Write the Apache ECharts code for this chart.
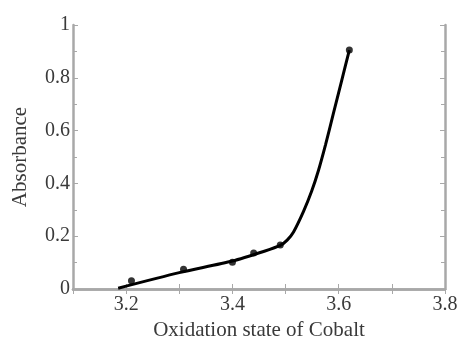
<!DOCTYPE html>
<html><head><meta charset="utf-8">
<script src="https://cdn.jsdelivr.net/npm/echarts@6/dist/echarts.min.js"></script>
<style>html,body{margin:0;padding:0;background:#fff}#c{width:459px;height:338px}</style>
</head><body><div id="c"></div>
<script>
// measured data points
var pointX = [3.21, 3.308, 3.40, 3.44, 3.49, 3.62];
var pointY = [0.031, 0.075, 0.101, 0.136, 0.167, 0.905];
// fitted curve
var curveX = [3.185, 3.30, 3.40, 3.46, 3.49, 3.503, 3.515, 3.534, 3.549, 3.562, 3.575, 3.59, 3.605, 3.62];
var curveY = [0.003, 0.062, 0.106, 0.143, 0.165, 0.185, 0.216, 0.295, 0.37, 0.45, 0.545, 0.665, 0.785, 0.905];
var xTickLabels = ['3.2', '3.4', '3.6', '3.8'];

var chart = echarts.init(document.getElementById('c'));
var font = '"Liberation Serif", "DejaVu Serif", serif';
var frame = '#a8a8a8';
var txt = '#3a3a3a';
function axisCommon() {
  return {
    axisLine: {show: true, lineStyle: {color: frame, width: 2.5}},
    axisTick: {show: true, inside: true, length: 5, lineStyle: {color: frame, width: 1}},
    splitLine: {show: false}
  };
}
var xb = Object.assign(axisCommon(), {
  type: 'value', min: 3.1, max: 3.8, interval: 0.1, position: 'bottom',
  name: 'Oxidation state of Cobalt', nameLocation: 'middle', nameGap: 29,
  nameTextStyle: {fontFamily: font, fontSize: 21, color: txt},
  axisLabel: {fontFamily: font, fontSize: 20, color: txt, margin: 6,
    formatter: function (v) { var s = (Math.round(v * 10) / 10).toFixed(1); return xTickLabels.indexOf(s) >= 0 ? s : ''; }}
});
var xt = Object.assign(axisCommon(), {
  type: 'value', min: 3.1, max: 3.8, interval: 0.1, position: 'top', axisLabel: {show: false}
});
var yl = Object.assign(axisCommon(), {
  type: 'value', min: 0, max: 1, interval: 0.2, position: 'left',
  name: 'Absorbance', nameLocation: 'middle', nameGap: 42, nameRotate: 90,
  nameTextStyle: {fontFamily: font, fontSize: 21, color: txt},
  minorTick: {show: true, splitNumber: 2, length: 4, lineStyle: {color: frame}},
  axisLabel: {fontFamily: font, fontSize: 20, color: txt, margin: 3,
    formatter: function (v) { return String(+(+v).toFixed(1)); }}
});
var yr = Object.assign(axisCommon(), {
  type: 'value', min: 0, max: 1, interval: 0.2, position: 'right',
  minorTick: {show: true, splitNumber: 2, length: 4, lineStyle: {color: frame}},
  axisLabel: {show: false}
});
chart.setOption({
  animation: false,
  grid: {left: 73, top: 25, right: 14, bottom: 49, containLabel: false, outerBoundsMode: 'none'},
  xAxis: [xb, xt],
  yAxis: [yl, yr],
  series: [
    {type: 'line', data: curveX.map(function (x, i) { return [x, curveY[i]]; }),
     smooth: 0.25, showSymbol: false, lineStyle: {color: '#000', width: 3}, z: 2},
    {type: 'scatter', data: pointX.map(function (x, i) { return [x, pointY[i]]; }),
     symbolSize: 7, itemStyle: {color: '#000'}, z: 3}
  ]
});
</script></body></html>
